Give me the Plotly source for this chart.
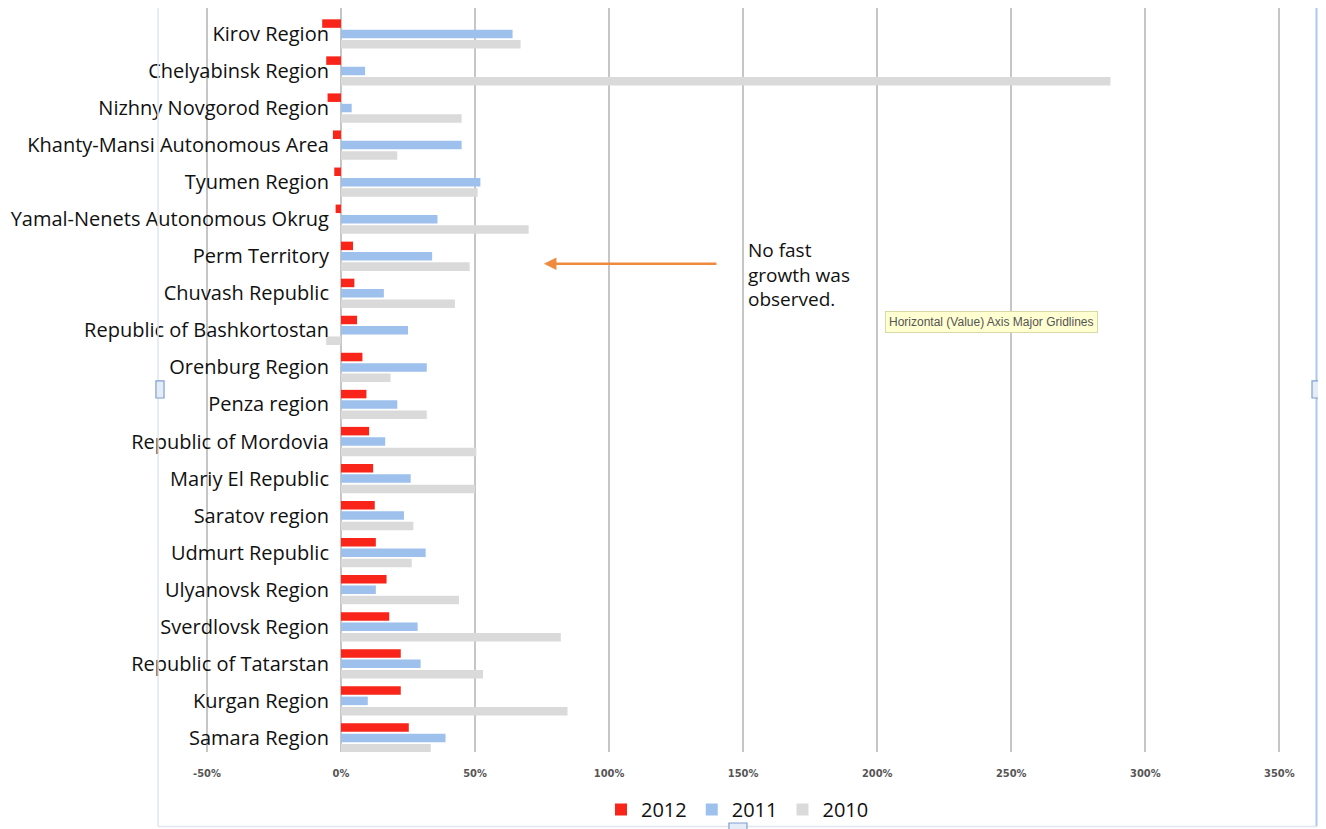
import plotly.graph_objects as go

regions = [
    "Kirov Region", "Chelyabinsk Region", "Nizhny Novgorod Region",
    "Khanty-Mansi Autonomous Area", "Tyumen Region", "Yamal-Nenets Autonomous Okrug",
    "Perm Territory", "Chuvash Republic", "Republic of Bashkortostan",
    "Orenburg Region", "Penza region", "Republic of Mordovia", "Mariy El Republic",
    "Saratov region", "Udmurt Republic", "Ulyanovsk Region", "Sverdlovsk Region",
    "Republic of Tatarstan", "Kurgan Region", "Samara Region",
]
v2012 = [-7, -5.5, -5, -3, -2.5, -2, 4.5, 5, 6, 8, 9.5, 10.5, 12, 12.6, 13, 17, 18, 22.3, 22.3, 25.3]
v2011 = [64, 9, 4, 45, 52, 36, 34, 16, 25, 32, 21, 16.5, 26, 23.5, 31.6, 13, 28.6, 29.7, 10, 39]
v2010 = [67, 287, 45, 21, 51, 70, 48, 42.5, -5.5, 18.5, 32, 50.5, 50, 27, 26.4, 44, 82, 53, 84.5, 33.5]
ticks = [-50, 0, 50, 100, 150, 200, 250, 300, 350]
tick_text = [f"{t}%" for t in ticks]

x_min, x_max = -67.5, 363.3
y_pos = (0 - x_min) / (x_max - x_min)

fig = go.Figure()
fig.add_trace(go.Bar(name="2012", y=regions, x=v2012, orientation="h",
                     marker=dict(color="#f9251a", line_width=0)))
fig.add_trace(go.Bar(name="2011", y=regions, x=v2011, orientation="h",
                     marker=dict(color="#9ec0ec", line_width=0)))
fig.add_trace(go.Bar(name="2010", y=regions, x=v2010, orientation="h",
                     marker=dict(color="#dadada", line_width=0)))

fig.update_layout(
    width=1310, height=821,
    margin=dict(l=152, r=3, t=0, b=77),
    paper_bgcolor="white", plot_bgcolor="white",
    barmode="group", bargap=0.16, bargroupgap=0.18,
    font=dict(family="Open Sans, Noto Sans, sans-serif", color="#111"),
    showlegend=True,
    legend=dict(orientation="h", x=0.5, xanchor="center", y=-0.078, yanchor="middle",
                font=dict(size=20, color="#111", family="Open Sans"),
                itemwidth=30, traceorder="normal", bgcolor="rgba(0,0,0,0)"),
    xaxis=dict(range=[x_min, x_max], tickvals=ticks, ticktext=tick_text,
               showgrid=True, gridcolor="#c6c6c6", gridwidth=2, zeroline=False,
               showline=False, ticks="", ticklabelstandoff=13,
               tickfont=dict(size=11, color="#555", family="DejaVu Sans Condensed",
                             weight="bold")),
    yaxis=dict(type="category", categoryorder="array", categoryarray=regions,
               range=[19.38, -0.70], anchor="free", position=y_pos,
               showgrid=False, zeroline=False, showline=False, ticks="",
               ticklabelstandoff=12,
               tickfont=dict(size=20, color="#111", family="Open Sans")),
)

# Arrow annotation
fig.add_annotation(x=75.7, y=6.2, ax=140.6, ay=6.2, xref="x", yref="y",
                   axref="x", ayref="y", text="", showarrow=True,
                   arrowhead=2, arrowsize=1, arrowwidth=2.5, arrowcolor="#f08a3c")
fig.add_annotation(x=151, y=6.5, xref="x", yref="y", xanchor="left", yanchor="middle",
                   text="No fast<br>growth was<br>observed.", showarrow=False, align="left",
                   font=dict(size=19, color="#111", family="Open Sans"))
# Tooltip-like label
fig.add_annotation(x=242.6, y=7.77, xref="x", yref="y", xanchor="center", yanchor="middle",
                   text="Horizontal (Value) Axis Major Gridlines", showarrow=False,
                   bgcolor="#ffffd2", bordercolor="#d9d9a8", borderwidth=1, borderpad=3,
                   font=dict(size=12, color="#555", family="Liberation Sans"))

# frame / selection edges and handles
fig.add_shape(type="line", xref="paper", yref="paper", x0=-0.0017, x1=-0.0017, y0=-0.1, y1=1,
              line=dict(color="#dfe6f0", width=1.5))
fig.add_shape(type="line", xref="paper", yref="paper", x0=1.0013, x1=1.0013, y0=-0.1, y1=1,
              line=dict(color="#aac8f0", width=2))
fig.add_shape(type="line", xref="paper", yref="paper", x0=-0.0017, x1=1.0013, y0=-0.1, y1=-0.1,
              line=dict(color="#dfe6f0", width=1.5))
for hx0, hx1, hy0, hy1 in [(-0.0035, 0.0035, 0.4758, 0.4987),
                           (0.9974, 1.0078, 0.4758, 0.4987),
                           (0.4926, 0.5082, -0.106, -0.0954)]:
    fig.add_shape(type="rect", xref="paper", yref="paper", x0=hx0, x1=hx1, y0=hy0, y1=hy1,
                  line=dict(color="#7f9fd0", width=1.2), fillcolor="#e4ecf8")

fig.write_html("out.html")
